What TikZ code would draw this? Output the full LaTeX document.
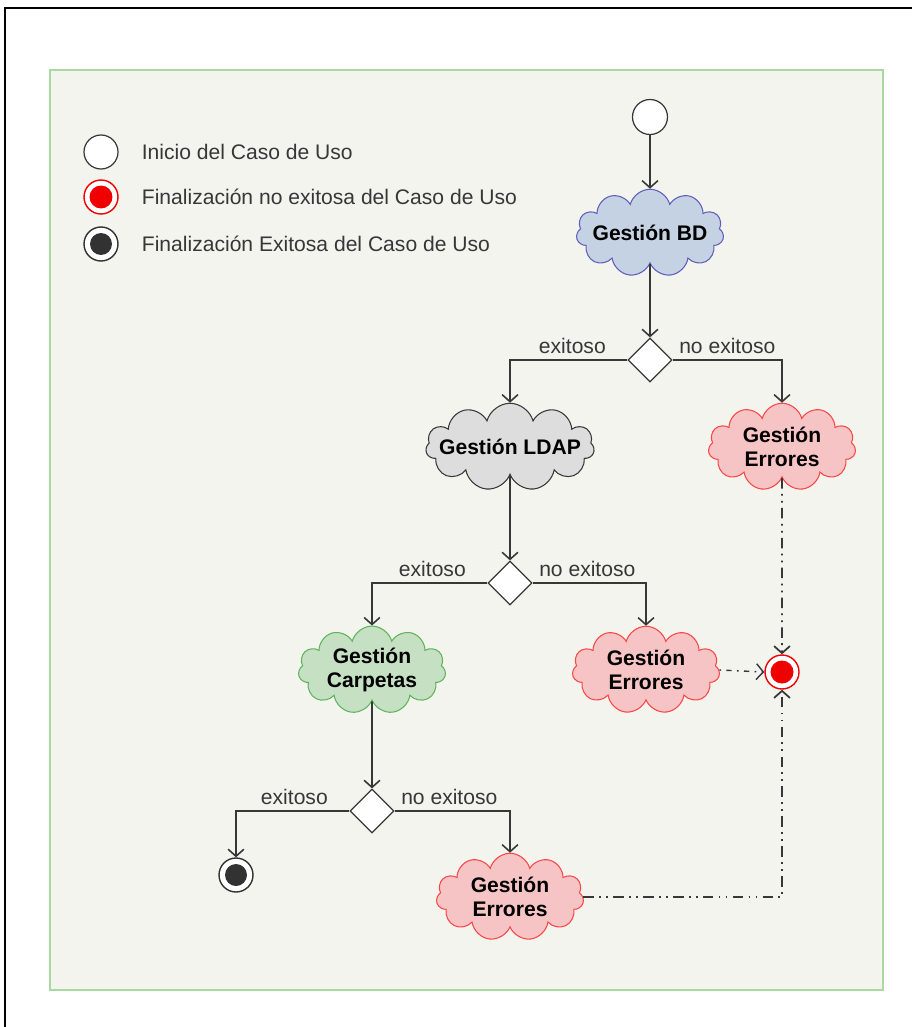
\documentclass[tikz,border=0pt]{standalone}
\usepackage{fontspec}
\setmainfont{Liberation Sans}
\usetikzlibrary{arrows.meta,positioning,shapes.geometric,shapes.symbols}
\definecolor{PanelGreen}{RGB}{172,214,162}
\definecolor{PanelBack}{RGB}{244,244,239}
\definecolor{LineGray}{RGB}{55,55,55}
\definecolor{BDFill}{RGB}{196,210,228}
\definecolor{BDLine}{RGB}{95,95,185}
\definecolor{LDAPFill}{RGB}{221,221,221}
\definecolor{CarpFill}{RGB}{197,224,195}
\definecolor{CarpLine}{RGB}{95,180,90}
\definecolor{ErrFill}{RGB}{246,196,196}
\definecolor{ErrLine}{RGB}{250,70,70}
\definecolor{EndRed}{RGB}{240,0,0}
\definecolor{EndDark}{RGB}{50,50,50}

\begin{document}
\begin{tikzpicture}[x=0.02cm,y=-0.02cm,>={Straight Barb[length=4pt,width=9pt]},
    font=\fontsize{12}{14}\selectfont,
    flow/.style={->,draw=LineGray,line width=0.9pt},
    fail/.style={->,draw=LineGray,line width=1pt,dash pattern=on 6pt off 3pt on 1pt off 3pt on 1pt off 3pt},
    proc/.style={cloud,cloud puffs=11,cloud ignores aspect,line width=0.6pt,inner sep=0pt,
      minimum width=2.95cm,minimum height=1.75cm,align=center,font=\fontsize{12}{14}\selectfont\bfseries},
    errproc/.style={proc,draw=ErrLine,fill=ErrFill},
    decision/.style={diamond,draw=LineGray,fill=white,line width=0.7pt,minimum size=0.88cm,inner sep=0pt},
    startnode/.style={circle,draw=LineGray,fill=white,line width=0.7pt,minimum size=0.7cm,inner sep=0pt},
    endfail/.style={circle,draw=EndRed,fill=white,line width=0.8pt,minimum size=0.68cm,inner sep=0pt,
      path picture={\fill[EndRed] (path picture bounding box.center) circle (0.23cm);}},
    endok/.style={circle,draw=EndDark,fill=white,line width=0.8pt,minimum size=0.68cm,inner sep=0pt,
      path picture={\fill[EndDark] (path picture bounding box.center) circle (0.22cm);}},
    lbl/.style={text=LineGray}]
  \useasboundingbox (0,0) rectangle (912,1027);
  \draw[line width=1.2pt] (5,1027) -- (5,8) -- (912,8);
  \draw[draw=PanelGreen,fill=PanelBack,line width=1.2pt] (50,70) rectangle (883,990);

  % leyenda
  \node[startnode,minimum size=0.68cm] (leg1) at (101,152) {};
  \node[endfail] (leg2) at (101,197) {};
  \node[endok] (leg3) at (101,244) {};
  \node[lbl,right=0.34cm of leg1] {Inicio del Caso de Uso};
  \node[lbl,right=0.34cm of leg2] {Finalización no exitosa del Caso de Uso};
  \node[lbl,right=0.34cm of leg3] {Finalización Exitosa del Caso de Uso};

  % nodos
  \node[startnode] (inicio) at (650,117) {};
  \node[proc,draw=BDLine,fill=BDFill,inner xsep=-3pt] (bd) at (650,233) {Gestión BD};
  \node[decision] (d1) at (650,360) {};
  \node[proc,draw=LineGray,fill=LDAPFill,inner xsep=-6pt] (ldap) at (510,447) {Gestión LDAP};
  \node[errproc] (err1) at (782,447) {Gestión\\Errores};
  \node[decision] (d2) at (510,583) {};
  \node[proc,draw=CarpLine,fill=CarpFill] (carp) at (372,670) {Gestión\\Carpetas};
  \node[errproc] (err2) at (646,670) {Gestión\\Errores};
  \node[endfail] (fin) at (782,672) {};
  \node[decision] (d3) at (372,811) {};
  \node[endok] (ok) at (236,875) {};
  \node[errproc] (err3) at (510,897) {Gestión\\Errores};

  % conectores
  \draw[flow] (inicio) -- (bd);
  \draw[flow] (bd) -- (d1);
  \draw[flow] (d1.west) node[lbl,above left,xshift=-0.3cm]{exitoso} -| (ldap.north);
  \draw[flow] (d1.east) node[lbl,above right]{no exitoso} -| (err1.north);
  \draw[flow] (ldap) -- (d2);
  \draw[flow] (d2.west) node[lbl,above left,xshift=-0.3cm]{exitoso} -| (carp.north);
  \draw[flow] (d2.east) node[lbl,above right]{no exitoso} -| (err2.north);
  \draw[flow] (carp) -- (d3);
  \draw[flow] (d3.west) node[lbl,above left,xshift=-0.3cm]{exitoso} -| (ok.north);
  \draw[flow] (d3.east) node[lbl,above right]{no exitoso} -| (err3.north);
  \draw[fail] (err1.south) -- (fin.north);
  \draw[fail,line width=0.8pt,dash pattern=on 1pt off 3pt on 3pt off 3pt] (err2.east) -- (fin.west);
  \draw[fail] (err3.east) -| (fin.south);
\end{tikzpicture}
\end{document}
